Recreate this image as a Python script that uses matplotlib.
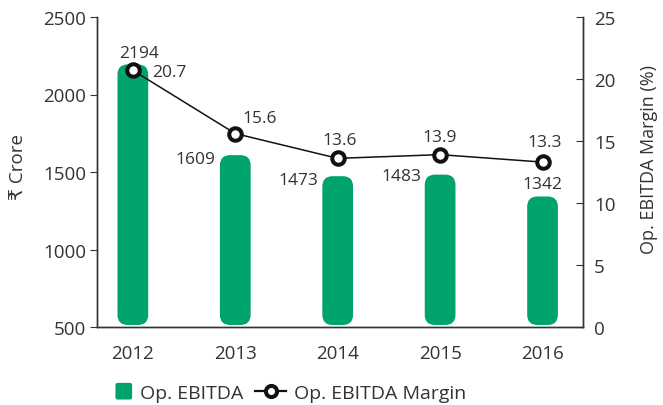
import matplotlib
matplotlib.use("Agg")
import matplotlib.pyplot as plt
from matplotlib.patches import FancyBboxPatch, Patch
from matplotlib.lines import Line2D
from matplotlib.legend_handler import HandlerPatch

years = ["2012", "2013", "2014", "2015", "2016"]
ebitda = [2194, 1609, 1473, 1483, 1342]
margin = [20.7, 15.6, 13.6, 13.9, 13.3]

plt.rcParams['font.family'] = ['Open Sans', 'DejaVu Sans']
TXT = '#333333'
GREEN = '#00A36C'

fig = plt.figure(figsize=(6.63, 4.06), dpi=100)
ax = fig.add_axes([97/663, 1-328/406, (583-97)/663, (328-18)/406])
ax2 = ax.twinx()

x = list(range(len(years)))
bw = 0.30
XL = (-0.35, 4.395)
ax.set_xlim(*XL)
ax.set_ylim(500, 2500)
ax2.set_ylim(0, 25)

px_x = (583-97) / (XL[1] - XL[0])
px_y = (328-18) / 2000
aspect = px_x / px_y
bars = ax.bar(x, [v - 500 for v in ebitda], bottom=500, width=bw, color='none')
for b in bars:
    b.set_visible(False)
    p = FancyBboxPatch((b.get_x(), 500 + 2/px_y), b.get_width(), b.get_height() - 2/px_y,
                       boxstyle="round,pad=0,rounding_size=0.1",
                       mutation_aspect=aspect, facecolor=GREEN, edgecolor='none', zorder=2)
    ax.add_patch(p)

ax2.plot(x, margin, color='#111111', lw=1.1, marker='o', ms=9, mfc='white',
         mec='#111111', mew=2.9, zorder=5)

fs_lab = 12.5
# (mode, dx, dy) in pixels
bl = [('c', 6, 11), ('l', -5, -4), ('l', -4, -4), ('l', -3, -1), ('c', 0, 12)]
for i, (v, (mode, dx, dy)) in enumerate(zip(ebitda, bl)):
    if mode == 'c':
        ax.annotate(str(v), (i, v), xytext=(dx, dy), textcoords='offset pixels',
                    ha='center', va='center', fontsize=fs_lab, color=TXT)
    else:
        ax.annotate(str(v), (i - bw/2, v), xytext=(dx, dy), textcoords='offset pixels',
                    ha='right', va='center', fontsize=fs_lab, color=TXT)

ml = [(36, -2), (24, 16), (2, 18), (-1, 18), (2, 20)]
for i, (m, (dx, dy)) in enumerate(zip(margin, ml)):
    ax2.annotate(f"{m}", (i, m), xytext=(dx, dy), textcoords='offset pixels',
                 ha='center', va='center', fontsize=fs_lab, color=TXT, zorder=6)

ax.set_xticks(x)
ax.set_xticklabels(years)
ax.set_yticks([500, 1000, 1500, 2000, 2500])
ax2.set_yticks([0, 5, 10, 15, 20, 25])
for a in (ax, ax2):
    a.spines['top'].set_visible(False)
    for s in a.spines.values():
        s.set_color('#333333')
        s.set_linewidth(1)
ax.tick_params(axis='x', length=0, pad=12, labelsize=13.5, colors=TXT)
ax.tick_params(axis='y', length=5, direction='out', labelsize=13.5, colors=TXT, pad=3)
ax2.tick_params(axis='y', length=5, direction='in', labelsize=13.5, colors=TXT, pad=8)
ax.set_ylabel("₹ Crore", fontsize=13.5, color=TXT)
ax.yaxis.set_label_coords(-(97-27)/486, (328-167)/310)
ax2.set_ylabel("Op. EBITDA Margin (%)", fontsize=13, color=TXT)
ax2.yaxis.set_label_coords((640-97)/486, (328-160)/310)


def square_patch(legend, orig_handle, xdescent, ydescent, width, height, fontsize):
    s = 12.0
    return FancyBboxPatch((-xdescent + width - s, -ydescent + (height - s) / 2), s, s,
                          boxstyle="round,pad=0,rounding_size=1.5")


handles = [Patch(facecolor=GREEN, edgecolor='none'),
           Line2D([], [], color='#111111', lw=1.6, marker='o', ms=8, mfc='white', mec='#111111', mew=2.9)]
fig.legend(handles, ["Op. EBITDA", "Op. EBITDA Margin"], loc='center left',
           bbox_to_anchor=(101/663, 1-394/406), borderpad=0, borderaxespad=0,
           ncol=2, frameon=False, fontsize=14, handlelength=1.6, handletextpad=0.41,
           columnspacing=0.6, labelcolor=TXT,
           handler_map={Patch: HandlerPatch(patch_func=square_patch)})

fig.savefig("out.png", dpi=100)
